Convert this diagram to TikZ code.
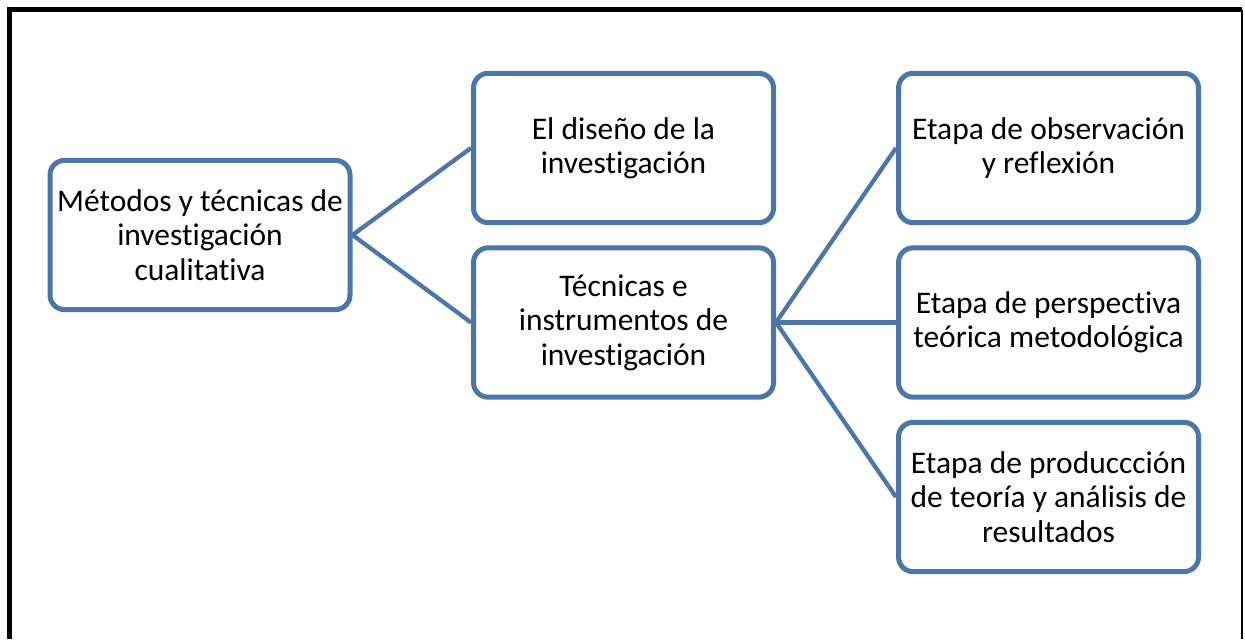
\documentclass[tikz,border=0pt]{standalone}
\usepackage{fontspec}
\setmainfont{Carlito}[Ligatures=CommonOff]
\usepackage{tikz}

\definecolor{azul}{RGB}{74,118,170}
\tikzset{
  caja/.style={draw=azul, line width=3.75pt, rounded corners=11pt, fill=white,
    minimum width=225pt, minimum height=112pt, align=center,
    font=\fontsize{23.6}{25.8}\selectfont, inner sep=2pt},
  enlace/.style={draw=azul, line width=3.2pt}
}

\begin{document}
\begin{tikzpicture}[x=0.75pt, y=-0.75pt]
\useasboundingbox (0,0) rectangle (1245,639);
\draw[line width=3.75pt] (9.5,639) -- (9.5,9.5) -- (1242,9.5);
\draw[line width=1.2pt] (1242,9.5) -- (1242,639);

\node[caja] (M) at (200,235) {Métodos y técnicas de\\investigación\\cualitativa};
\node[caja] (D) at (623.5,148) {El diseño de la\\investigación};
\node[caja] (T) at (623.5,322.5) {Técnicas e\\instrumentos de\\investigación};
\node[caja] (E1) at (1048.5,148) {Etapa de observación\\y reflexión};
\node[caja] (E2) at (1048.5,322.5) {Etapa de perspectiva\\teórica metodológica};
\node[caja] (E3) at (1048.5,497) {Etapa de produccción\\de teoría y análisis de\\resultados};

\draw[enlace] (M.east) -- (D.west);
\draw[enlace] (M.east) -- (T.west);
\draw[enlace] (T.east) -- (E1.west);
\draw[enlace] (T.east) -- (E2.west);
\draw[enlace] (T.east) -- (E3.west);

\end{tikzpicture}
\end{document}
